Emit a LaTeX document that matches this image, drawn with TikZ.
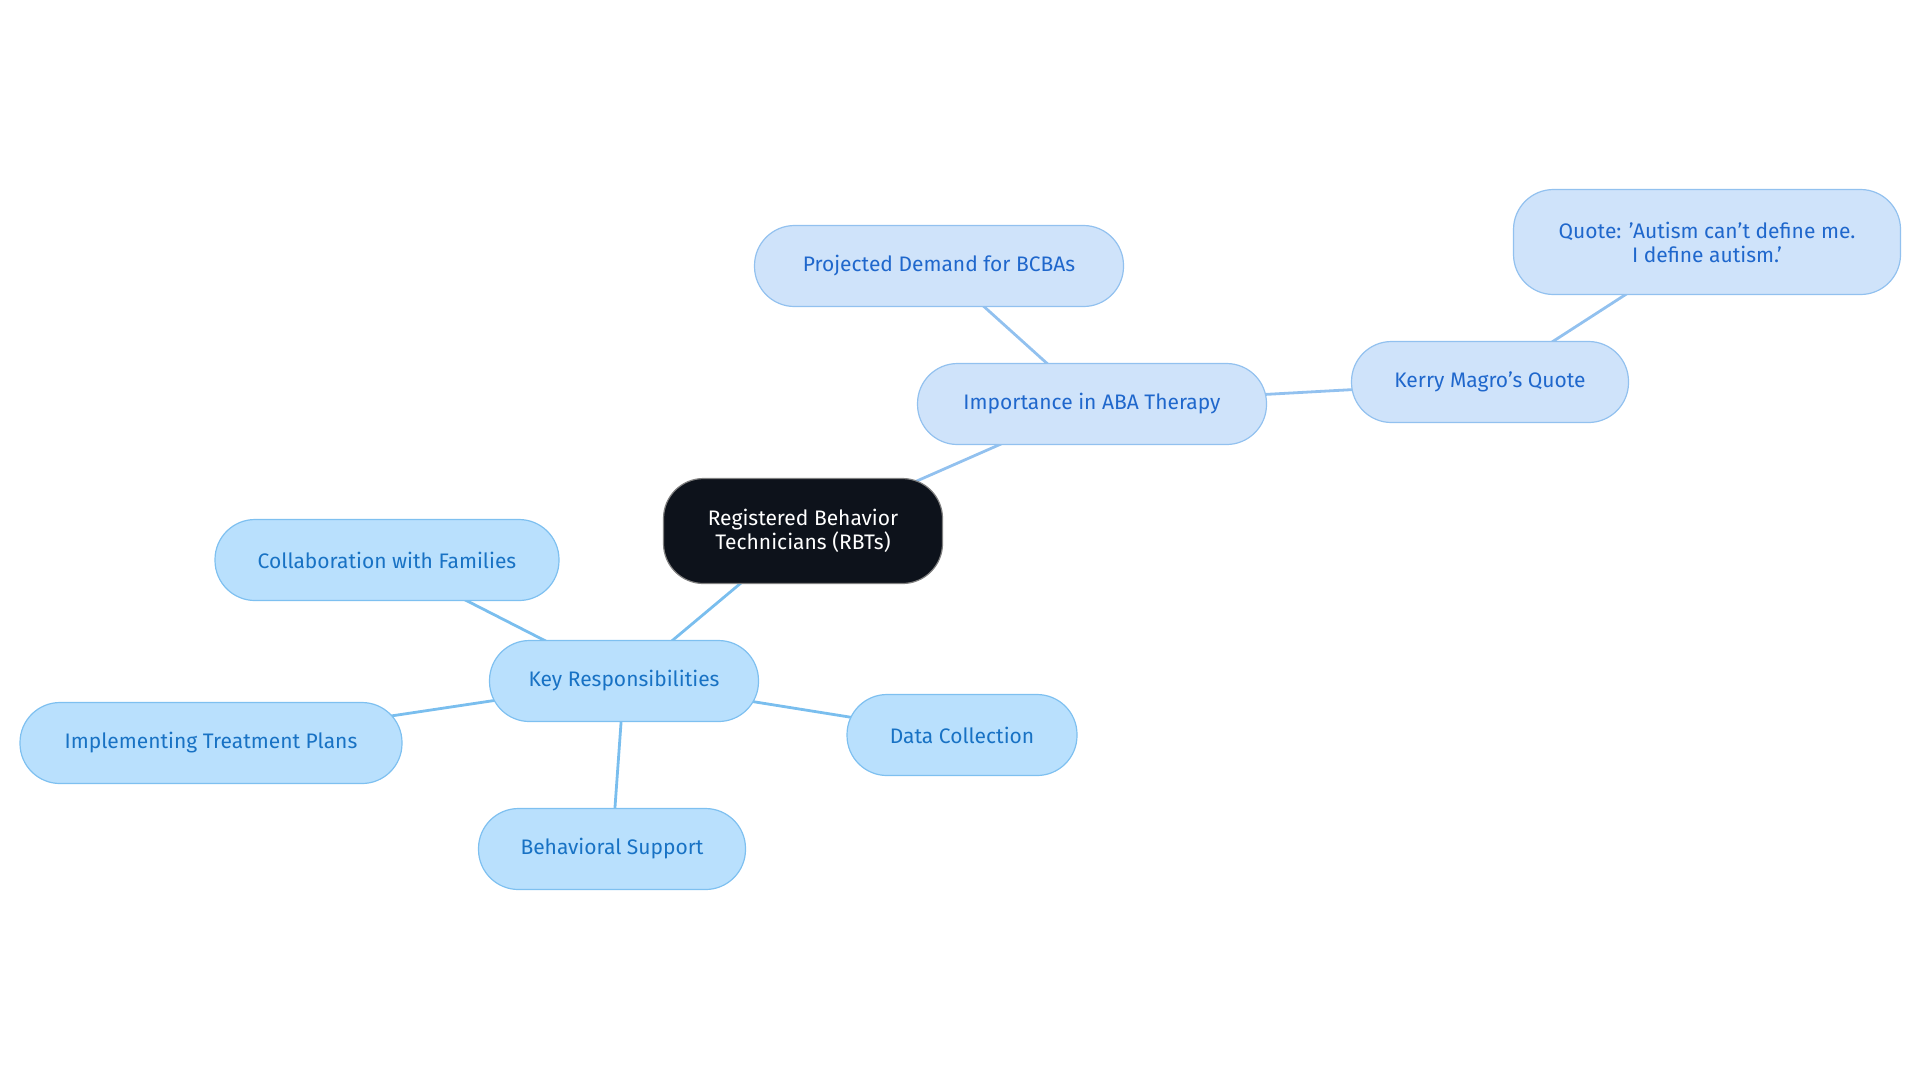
\documentclass[tikz,border=0pt]{standalone}
\usepackage{fontspec}
\setmainfont{Fira Sans}
\definecolor{fa}{HTML}{CFE3FA}\definecolor{ba}{HTML}{92C1EF}\definecolor{ta}{HTML}{1F67CC}
\definecolor{fb}{HTML}{B9E0FD}\definecolor{bb}{HTML}{7EC0F0}\definecolor{tb}{HTML}{1872C4}
\definecolor{ea}{HTML}{92C1EF}\definecolor{eb}{HTML}{7ABEEE}
\definecolor{rootc}{HTML}{0D121B}
\begin{document}
\begin{tikzpicture}[x=0.5pt,y=-0.5pt,
 nd/.style={rounded corners=20pt,line width=0.6pt,align=center,font=\fontsize{10.5}{12}\selectfont,inner sep=0pt,minimum height=40.5pt},
 ga/.style={nd,fill=fa,draw=ba,text=ta},
 gb/.style={nd,fill=fb,draw=bb,text=tb},
 la/.style={draw=ea,line width=1.4pt},
 lb/.style={draw=eb,line width=1.4pt}]
\useasboundingbox (0,0) rectangle (1920,1083);
\draw[la] (803,531) -- (1092,404);
\draw[la] (1092,404) -- (939,266);
\draw[la] (1092,404) -- (1490,382);
\draw[la] (1490,382) -- (1707,242);
\draw[lb] (803,531) -- (624,681);
\draw[lb] (624,681) -- (387,560);
\draw[lb] (624,681) -- (211,743);
\draw[lb] (624,681) -- (612,849);
\draw[lb] (624,681) -- (962,735);
\node[nd,fill=rootc,draw=gray,text=white,minimum width=139.5pt,minimum height=52.5pt] (r) at (803,531) {Registered Behavior\\Technicians (RBTs)};
\node[ga,minimum width=174.5pt] (i) at (1092,404) {Importance in ABA Therapy};
\node[ga,minimum width=184.5pt] (p) at (939,266) {Projected Demand for BCBAs};
\node[ga,minimum width=138.5pt] (k) at (1490,382) {Kerry Magro's Quote};
\node[ga,minimum width=193.5pt,minimum height=52.5pt] (q) at (1707,242) {Quote: 'Autism can't define me.\\I define autism.'};
\node[gb,minimum width=134.5pt] (key) at (624,681) {Key Responsibilities};
\node[gb,minimum width=172pt] (c) at (387,560) {Collaboration with Families};
\node[gb,minimum width=191pt] (im) at (211,743) {Implementing Treatment Plans};
\node[gb,minimum width=133.5pt] (b) at (612,849) {Behavioral Support};
\node[gb,minimum width=115pt] (d) at (962,735) {Data Collection};
\end{tikzpicture}
\end{document}
